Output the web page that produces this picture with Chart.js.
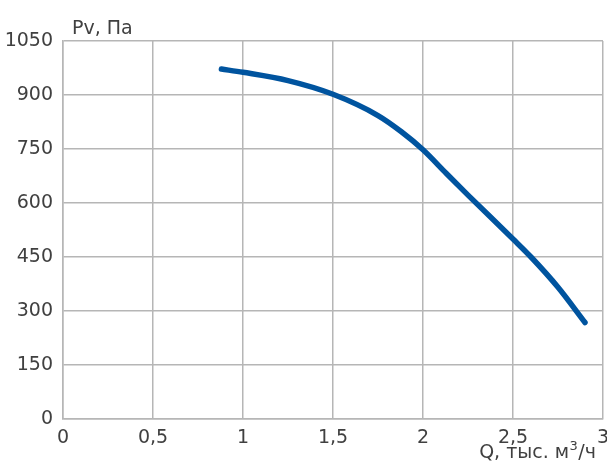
<!DOCTYPE html>
<html>
<head>
<meta charset="utf-8">
<script src="https://cdn.jsdelivr.net/npm/chart.js@4"></script>
<style>
  html, body { margin: 0; padding: 0; background: #fff; }
  #wrap { width: 607px; height: 463px; }
</style>
</head>
<body>
<div id="wrap"><canvas id="fanCurve"></canvas></div>
<script>
// Data
const flowQ = [0.88, 1, 1.25, 1.5, 1.75, 1.88, 2, 2.13, 2.25, 2.5, 2.6, 2.75, 2.9];
const pressurePv = [972, 963, 940, 902, 843, 798, 748, 682, 622, 500, 450, 366, 268];
const xTicks = [0, 0.5, 1, 1.5, 2, 2.5, 3];
const yTicks = [0, 150, 300, 450, 600, 750, 900, 1050];
const yTitle = 'Pv, Па';
const xTitle = ['Q, тыс. м', '3', '/ч']; // base, superscript, tail

const gridColor = '#b6b6b6';
const textColor = '#404040';
const fontFamily = '"DejaVu Sans", sans-serif';

const points = flowQ.map((q, i) => ({ x: q, y: pressurePv[i] }));

// axis titles drawn next to the plot area
const axisTitles = {
  id: 'axisTitles',
  afterDraw(chart) {
    const { ctx, chartArea } = chart;
    ctx.save();
    ctx.fillStyle = textColor;
    ctx.textBaseline = 'alphabetic';
    ctx.textAlign = 'left';
    ctx.font = '19px ' + fontFamily;
    ctx.fillText(yTitle, chartArea.left + 9, chartArea.top - 7);

    // x title, right aligned, with a raised "3"
    const big = '19px ' + fontFamily;
    const small = '13px ' + fontFamily;
    ctx.font = big;
    const w0 = ctx.measureText(xTitle[0]).width;
    const w2 = ctx.measureText(xTitle[2]).width;
    ctx.font = small;
    const w1 = ctx.measureText(xTitle[1]).width;
    let x = chartArea.right - 7 - (w0 + w1 + w2 + 1);
    const y = chartArea.bottom + 39;
    ctx.font = big;
    ctx.fillText(xTitle[0], x, y);
    x += w0 + 0.5;
    ctx.font = small;
    ctx.fillText(xTitle[1], x, y - 8);
    x += w1 + 0.5;
    ctx.font = big;
    ctx.fillText(xTitle[2], x, y);
    ctx.restore();
  }
};

new Chart(document.getElementById('fanCurve'), {
  type: 'line',
  data: {
    datasets: [{
      data: points,
      borderColor: '#00549f',
      borderWidth: 5.5,
      borderCapStyle: 'round',
      pointRadius: 0,
      cubicInterpolationMode: 'monotone',
      fill: false
    }]
  },
  options: {
    responsive: true,
    maintainAspectRatio: false,
    animation: false,
    layout: { padding: { top: 41, right: 4, left: 0, bottom: 0 } },
    plugins: {
      legend: { display: false },
      tooltip: { enabled: false }
    },
    scales: {
      x: {
        type: 'linear',
        min: 0,
        max: 3,
        afterBuildTicks: (scale) => { scale.ticks = xTicks.map(v => ({ value: v })); },
        afterFit: (scale) => {
          scale.height = 44;
          scale.paddingLeft = 0;
          scale.paddingRight = 0;
        },
        grid: { color: gridColor, lineWidth: 1.5, drawTicks: false },
        border: { color: gridColor, width: 1.5 },
        ticks: {
          padding: 8,
          color: textColor,
          font: { family: fontFamily, size: 19 },
          maxRotation: 0,
          callback: (v) => String(v).replace('.', ',')
        }
      },
      y: {
        min: 0,
        max: 1050,
        afterBuildTicks: (scale) => { scale.ticks = yTicks.map(v => ({ value: v })); },
        afterFit: (scale) => {
          scale.width = 63;
          scale.paddingTop = 0;
          scale.paddingBottom = 0;
        },
        grid: { color: gridColor, lineWidth: 1.5, drawTicks: false },
        border: { color: gridColor, width: 1.5 },
        ticks: {
          padding: 10,
          color: textColor,
          font: { family: fontFamily, size: 19 },
          callback: (v) => String(v)
        }
      }
    }
  },
  plugins: [axisTitles]
});
</script>
</body>
</html>
